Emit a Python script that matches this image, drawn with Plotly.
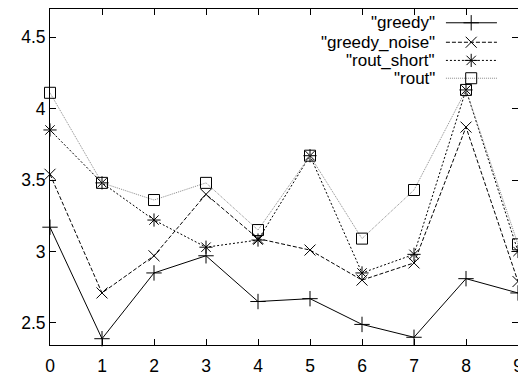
import plotly.graph_objects as go

x = [0, 1, 2, 3, 4, 5, 6, 7, 8, 9]
greedy = [3.17, 2.39, 2.85, 2.97, 2.65, 2.67, 2.49, 2.40, 2.81, 2.71]
greedy_noise = [3.54, 2.71, 2.97, 3.40, 3.09, 3.01, 2.80, 2.92, 3.87, 2.79]
rout_short = [3.85, 3.48, 3.22, 3.03, 3.08, 3.67, 2.85, 2.98, 4.13, 3.00]
rout = [4.11, 3.48, 3.36, 3.48, 3.15, 3.67, 3.09, 3.43, 4.13, 3.05]

names = ['"greedy"', '"greedy_noise"', '"rout_short"', '"rout"']
series = [greedy, greedy_noise, rout_short, rout]
colors = ["black", "black", "black", "#8a8a8a"]
dashes = ["solid", "4px,2px", "2px,2px", "1px,1px"]
symbols = ["cross-thin-open", "x-thin-open", "asterisk-open", "square-open"]
sizes = [11, 11, 11, 11]

ytick_vals = [2.5, 3, 3.5, 4, 4.5]
ytick_text = ["2.5", "3", "3.5", "4", "4.5"]

FONT = "Liberation Sans, Arial, sans-serif"

fig = go.Figure()
for s, c, d, sym, sz in zip(series, colors, dashes, symbols, sizes):
    fig.add_trace(go.Scatter(
        x=x, y=s, mode="lines+markers", cliponaxis=False, showlegend=False,
        line=dict(color=c, width=1, dash=d),
        marker=dict(symbol=sym, size=sz, color="black", line=dict(width=1, color="black")),
    ))

# manual gnuplot-style legend (text right aligned, sample to the right)
leg_y = [0.959, 0.901, 0.847, 0.794]
for nm, c, d, sym, sz, ly in zip(names, colors, dashes, symbols, sizes, leg_y):
    fig.add_trace(go.Scatter(
        x=[0.846, 0.955], y=[ly, ly], xaxis="x2", yaxis="y2", mode="lines",
        showlegend=False, cliponaxis=False, hoverinfo="skip",
        line=dict(color=c, width=1, dash=d)))
    fig.add_trace(go.Scatter(
        x=[0.9], y=[ly], xaxis="x2", yaxis="y2", mode="markers",
        showlegend=False, cliponaxis=False, hoverinfo="skip",
        marker=dict(symbol=sym, size=sz, color="black", line=dict(width=1, color="black"))))
    fig.add_annotation(x=0.824, y=ly, xref="paper", yref="paper", text=nm,
                       showarrow=False, xanchor="right", yanchor="middle",
                       borderpad=0,
                       font=dict(family=FONT, size=17, color="black"))

axis_common = dict(showgrid=False, zeroline=False, showline=True, linecolor="black",
                   linewidth=1, mirror="allticks", ticks="inside", ticklen=6,
                   tickcolor="black", tickwidth=1, ticklabeloverflow="allow",
                   automargin=False,
                   tickfont=dict(family=FONT, size=17.5, color="black"))

fig.update_layout(
    width=518, height=372,
    margin=dict(l=50, r=0, t=9, b=27, pad=0),
    paper_bgcolor="white", plot_bgcolor="white",
    xaxis=dict(range=[0, 9], tickvals=x, ticktext=[str(v) for v in x],
               ticklabelstandoff=5, **axis_common),
    yaxis=dict(range=[2.346, 4.696], tickvals=ytick_vals, ticktext=ytick_text,
               ticklabelstandoff=0, **axis_common),
    xaxis2=dict(range=[0, 1], overlaying="x", visible=False),
    yaxis2=dict(range=[0, 1], overlaying="y", visible=False),
)

fig.write_html("out.html", config={"displayModeBar": False},
               post_script="document.body.style.margin='0';document.body.style.overflow='hidden';")
